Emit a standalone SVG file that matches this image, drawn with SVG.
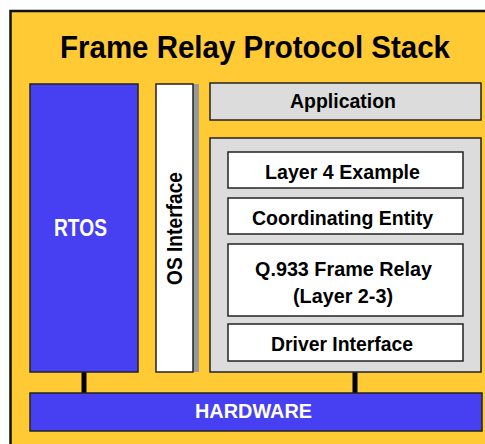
<svg xmlns="http://www.w3.org/2000/svg" width="485" height="444" viewBox="0 0 485 444">
<style>
.t{font-family:"Liberation Sans",Arial,sans-serif;font-weight:bold;text-anchor:middle}
.blk{fill:#000}
.wht{fill:#fff}
.box{stroke:#222;stroke-width:1.5}
</style>
<rect x="0" y="0" width="485" height="444" fill="#fff"/>
<g id="frame">
<rect x="10.5" y="11" width="490" height="450" fill="#FFCA33" stroke="#111" stroke-width="2.5"/>
<text class="t blk" x="255" y="58" font-size="31" textLength="390" lengthAdjust="spacingAndGlyphs">Frame Relay Protocol Stack</text>
</g>
<g id="connectors" stroke="#000" stroke-width="5">
<line x1="84" y1="372" x2="84" y2="393"/>
<line x1="355" y1="372" x2="355" y2="393"/>
</g>
<g id="rtos">
<rect class="box" x="30" y="84" width="108" height="288" fill="#4640F2"/>
<text class="t wht" x="80.5" y="236" font-size="24" textLength="53" lengthAdjust="spacingAndGlyphs">RTOS</text>
</g>
<g id="os-interface">
<rect x="193" y="84" width="6" height="288" fill="#999"/>
<rect class="box" x="156" y="84" width="37" height="288" fill="#fff"/>
<text class="t blk" transform="translate(182,228.5) rotate(-90)" x="0" y="0" font-size="22" textLength="113" lengthAdjust="spacingAndGlyphs">OS Interface</text>
</g>
<g id="application">
<rect class="box" x="210" y="83" width="271" height="37" fill="#DCDCDC"/>
<text class="t blk" x="343" y="108" font-size="21" textLength="106" lengthAdjust="spacingAndGlyphs">Application</text>
</g>
<g id="stack">
<rect class="box" x="210" y="138" width="271" height="234" fill="#DCDCDC"/>
</g>
<g id="layer4">
<rect class="box" x="228" y="152" width="235" height="36" fill="#fff"/>
<text class="t blk" x="342.5" y="179" font-size="21" textLength="155" lengthAdjust="spacingAndGlyphs">Layer 4 Example</text>
</g>
<g id="coordinating">
<rect class="box" x="228" y="198" width="235" height="36" fill="#fff"/>
<text class="t blk" x="342.5" y="225" font-size="21" textLength="181" lengthAdjust="spacingAndGlyphs">Coordinating Entity</text>
</g>
<g id="q933">
<rect class="box" x="228" y="244" width="235" height="72" fill="#fff"/>
<text class="t blk" x="343.5" y="276" font-size="21" textLength="177" lengthAdjust="spacingAndGlyphs">Q.933 Frame Relay</text>
<text class="t blk" x="343" y="303" font-size="21" textLength="100" lengthAdjust="spacingAndGlyphs">(Layer 2-3)</text>
</g>
<g id="driver">
<rect class="box" x="228" y="324" width="235" height="37" fill="#fff"/>
<text class="t blk" x="342" y="351" font-size="21" textLength="142" lengthAdjust="spacingAndGlyphs">Driver Interface</text>
</g>
<g id="hardware">
<rect class="box" x="30" y="393" width="452" height="38" fill="#4640F2"/>
<text class="t wht" x="253.5" y="418" font-size="20" textLength="117" lengthAdjust="spacingAndGlyphs">HARDWARE</text>
</g>
</svg>
